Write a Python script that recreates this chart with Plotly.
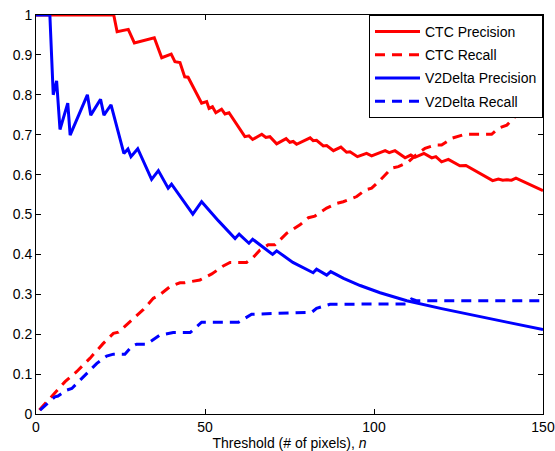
import plotly.graph_objects as go

# CTC Precision
ctc_prec_x = [0, 23, 24, 27.3, 29.1, 35, 37.2, 40, 41.1, 42.6, 44, 45, 49, 50.5, 51.2, 52.2, 53.2, 54.9,
              55.9, 57.1, 61.8, 63, 64.1, 66.8, 68, 69.2, 71.2, 74, 75.1, 76.1, 77.1, 81.1, 82, 83, 85, 86,
              88, 90.2, 91.9, 92.9, 95.1, 97.8, 99.3, 103.3, 104.5, 106.2, 109.2, 110.9, 112.1, 114.8,
              117.1, 118.3, 120, 122, 125.4, 127.2, 135.1, 136.8, 138.1, 139.3, 140.7, 142, 150]
ctc_prec_y = [1.0, 1.0, 0.958, 0.964, 0.93, 0.943, 0.893, 0.902, 0.883, 0.881, 0.845, 0.844, 0.779, 0.783,
              0.766, 0.770, 0.755, 0.764, 0.752, 0.755, 0.695, 0.697, 0.688, 0.701, 0.693, 0.695, 0.677,
              0.690, 0.681, 0.683, 0.676, 0.692, 0.685, 0.686, 0.672, 0.673, 0.660, 0.669, 0.656, 0.657,
              0.645, 0.653, 0.647, 0.660, 0.655, 0.660, 0.642, 0.649, 0.643, 0.653, 0.642, 0.645, 0.632,
              0.638, 0.622, 0.623, 0.585, 0.589, 0.586, 0.587, 0.586, 0.591, 0.560]

# CTC Recall
ctc_rec_x = [1, 5.6, 8.6, 12, 16, 19.9, 22.9, 24.4, 27.8, 31.8, 34.7, 36.2, 39.6, 42.6, 44, 47, 48.5, 52,
             55.4, 57.4, 62.3, 64.3, 66.3, 68.7, 70.7, 74.2, 78.1, 80.6, 82.5, 86, 89, 90.9, 94.9, 97.5,
             99.3, 101.8, 105.2, 107.2, 110.2, 112.1, 115.1, 118, 120, 123, 126.9, 134.8, 136.8, 139.3,
             141.7, 143.2, 150]
ctc_rec_y = [0.01, 0.052, 0.081, 0.106, 0.14, 0.177, 0.202, 0.205, 0.231, 0.262, 0.29, 0.296, 0.319, 0.329,
             0.329, 0.333, 0.336, 0.351, 0.371, 0.38, 0.38, 0.393, 0.411, 0.424, 0.424, 0.453, 0.474, 0.492,
             0.496, 0.516, 0.528, 0.532, 0.545, 0.562, 0.566, 0.586, 0.616, 0.62, 0.632, 0.647, 0.666,
             0.674, 0.674, 0.691, 0.701, 0.701, 0.716, 0.724, 0.745, 0.749, 0.749]

# V2Delta Precision
v2_prec_x = [0, 4.1, 5.1, 6.1, 7.1, 9.4, 10.1, 15.2, 16.2, 19.1, 20.1, 22.2, 26, 27.2, 28.1, 30.1, 34.2,
             36.2, 39.1, 40.1, 46.4, 49, 54, 58.9, 60.1, 63, 64.1, 70, 71.2, 76, 82, 83, 86, 87.2, 91, 95.9,
             101.8, 109.7, 120, 130, 140, 150]
v2_prec_y = [1.0, 1.0, 0.8, 0.835, 0.713, 0.779, 0.699, 0.8, 0.749, 0.789, 0.749, 0.775, 0.653, 0.664, 0.645,
             0.665, 0.588, 0.61, 0.566, 0.576, 0.501, 0.532, 0.484, 0.44, 0.451, 0.428, 0.438, 0.40, 0.409,
             0.38, 0.354, 0.363, 0.348, 0.357, 0.340, 0.322, 0.304, 0.284, 0.264, 0.246, 0.229, 0.212]

# V2Delta Recall
v2_rec_x = [1.2, 5.6, 6.5, 9.1, 10.6, 14, 18, 20.9, 22.9, 26.3, 28.3, 29.8, 32.7, 36.7, 40.6, 45.6, 49,
            59.9, 62.8, 63.8, 81.6, 83, 87, 109.7, 111.1, 112.5, 150]
v2_rec_y = [0.01, 0.043, 0.045, 0.06, 0.064, 0.094, 0.127, 0.145, 0.15, 0.15, 0.169, 0.175, 0.175, 0.198,
            0.204, 0.204, 0.23, 0.23, 0.244, 0.25, 0.255, 0.265, 0.275, 0.276, 0.288, 0.284, 0.284]

x_ticks = [0, 50, 100, 150]
y_ticks = [0, 0.1, 0.2, 0.3, 0.4, 0.5, 0.6, 0.7, 0.8, 0.9, 1]
y_tick_labels = ["0", "0.1", "0.2", "0.3", "0.4", "0.5", "0.6", "0.7", "0.8", "0.9", "1"]

RED = "#FF0000"
BLUE = "#0000FF"
DASH = "10px,7px"

fig = go.Figure()
fig.add_trace(go.Scatter(x=ctc_prec_x, y=ctc_prec_y, mode="lines", name="CTC Precision", legendgroup="a",
                         line=dict(color=RED, width=3)))
fig.add_trace(go.Scatter(x=ctc_rec_x, y=ctc_rec_y, mode="lines", name="CTC Recall", legendgroup="b",
                         line=dict(color=RED, width=3, dash=DASH)))
fig.add_trace(go.Scatter(x=v2_prec_x, y=v2_prec_y, mode="lines", name="V2Delta Precision", legendgroup="c",
                         line=dict(color=BLUE, width=3)))
fig.add_trace(go.Scatter(x=v2_rec_x, y=v2_rec_y, mode="lines", name="V2Delta Recall", legendgroup="d",
                         line=dict(color=BLUE, width=3, dash=DASH)))

axis_common = dict(showline=True, linecolor="black", linewidth=1, mirror="ticks",
                   ticks="inside", ticklen=5, tickcolor="black", showgrid=False, zeroline=False,
                   tickfont=dict(size=14, color="black"))

fig.update_layout(
    width=555, height=451,
    margin=dict(l=36, r=12, t=15, b=37),
    paper_bgcolor="white", plot_bgcolor="white",
    font=dict(family="Liberation Sans, Arial, Helvetica, sans-serif", size=14, color="black"),
    xaxis=dict(range=[0, 150], tickvals=x_ticks, ticktext=[str(v) for v in x_ticks],
               ticklabeloverflow="allow",
               title=dict(text="Threshold (# of pixels), <i>n</i>", font=dict(size=14), standoff=9),
               automargin=False, **axis_common),
    yaxis=dict(range=[0, 1], tickvals=y_ticks, ticktext=y_tick_labels, automargin=False, **axis_common),
    legend=dict(x=1, y=1, xanchor="right", yanchor="top", bgcolor="white", bordercolor="black",
                borderwidth=1, font=dict(size=14), tracegroupgap=2, itemwidth=45,
                entrywidth=125, entrywidthmode="pixels"),
    showlegend=True,
)

fig.write_html("out.html")
